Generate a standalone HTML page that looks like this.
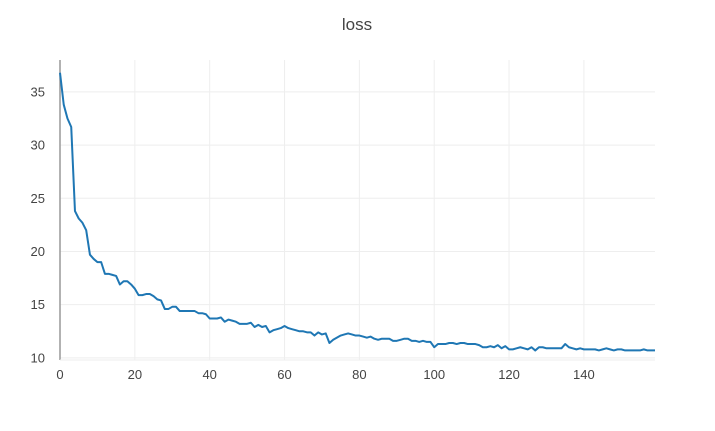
<!DOCTYPE html>
<html><head><meta charset="utf-8"><style>
body{margin:0;background:#fff;font-family:"Liberation Sans",Arial,sans-serif}
svg text{font-family:"Liberation Sans",Arial,sans-serif;fill:#444}
</style></head><body>
<svg id="c" width="715" height="426" xmlns="http://www.w3.org/2000/svg">
<text x="357" y="30" text-anchor="middle" font-size="17">loss</text>
<g id="grid"></g><g id="axes"></g><g id="plot"></g>
</svg>
<script>
const xTicks=[0,20,40,60,80,100,120,140];
const yTicks=[10,15,20,25,30,35];
const lossValues=[36.8,33.8,32.5,31.7,23.8,23.1,22.7,22.0,19.7,19.3,19.0,19.0,17.9,17.9,17.8,17.7,16.9,17.2,17.2,16.9,
16.5,15.9,15.9,16.0,16.0,15.8,15.5,15.4,14.6,14.6,14.8,14.8,14.4,14.4,14.4,14.4,14.4,14.2,14.2,14.1,
13.7,13.7,13.7,13.8,13.4,13.6,13.5,13.4,13.2,13.2,13.2,13.3,12.9,13.1,12.9,13.0,12.4,12.6,12.7,12.8,
13.0,12.8,12.7,12.6,12.5,12.5,12.4,12.4,12.1,12.4,12.2,12.3,11.4,11.7,11.9,12.1,12.2,12.3,12.2,12.1,
12.1,12.0,11.9,12.0,11.8,11.7,11.8,11.8,11.8,11.6,11.6,11.7,11.8,11.8,11.6,11.6,11.5,11.6,11.5,11.5,
11.0,11.3,11.3,11.3,11.4,11.4,11.3,11.4,11.4,11.3,11.3,11.3,11.2,11.0,11.0,11.1,11.0,11.2,10.9,11.1,
10.8,10.8,10.9,11.0,10.9,10.8,11.0,10.7,11.0,11.0,10.9,10.9,10.9,10.9,10.9,11.3,11.0,10.9,10.8,10.9,
10.8,10.8,10.8,10.8,10.7,10.8,10.9,10.8,10.7,10.8,10.8,10.7,10.7,10.7,10.7,10.7,10.8,10.7,10.7,10.7];
const L=60,R=655,T=60,B=360;
const xMax=lossValues.length-1,yMin=9.8,yMax=38;
const X=v=>L+(v/xMax)*(R-L);
const Y=v=>B-(v-yMin)/(yMax-yMin)*(B-T);
const NS="http://www.w3.org/2000/svg";
function mk(tag,attrs,parent){const e=document.createElementNS(NS,tag);for(const k in attrs)e.setAttribute(k,attrs[k]);parent.appendChild(e);return e;}
const grid=document.getElementById('grid'),axes=document.getElementById('axes'),plot=document.getElementById('plot');
xTicks.forEach(t=>{
 const g=mk('line',{x1:X(t),x2:X(t),y1:T,y2:B,stroke:'#eee','stroke-width':1},grid);
 
 
 const tx=mk('text',{x:X(t),y:B+19,'text-anchor':'middle','font-size':13},axes);
 tx.textContent=t;
 
 
});
yTicks.forEach(t=>{
 const g=mk('line',{x1:L,x2:R,y1:Y(t),y2:Y(t),stroke:'#eee','stroke-width':1},grid);
 
 
 const tx=mk('text',{x:L-15,y:Y(t)+4.5,'text-anchor':'end','font-size':13},axes);
 tx.textContent=t;
 
 
});
const ya=mk('line',{x1:L,x2:L,y1:T,y2:B,stroke:'#999','stroke-width':1.5},axes);


const xa=mk('line',{x1:L,x2:R,y1:B,y2:B,stroke:'#eee','stroke-width':1},axes);


const d=lossValues.map((v,i)=>(i?'L':'M')+X(i).toFixed(2)+','+Y(v).toFixed(2)).join('');
const p=mk('path',{d:d,fill:'none',stroke:'#1f77b4','stroke-width':2,'stroke-linejoin':'round'},plot);


</script>
</body></html>
